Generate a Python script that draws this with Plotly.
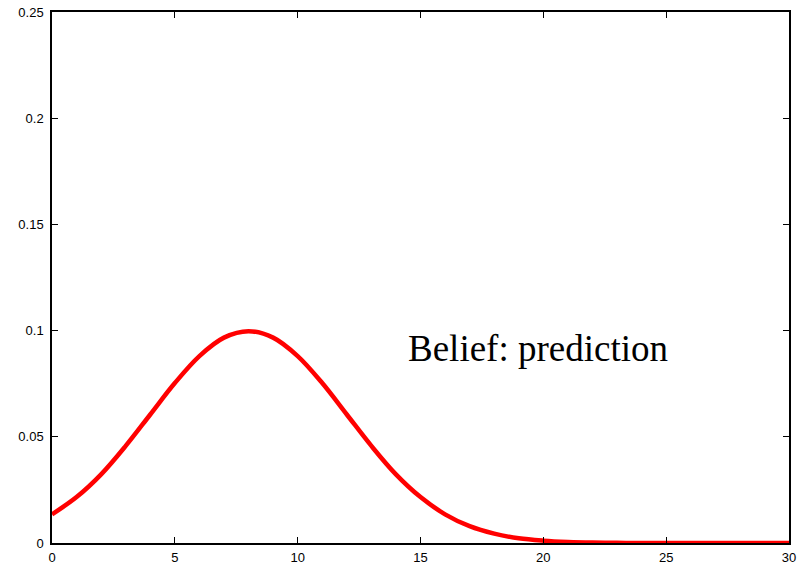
import plotly.graph_objects as go

x_vals = list(range(0, 31))
y_vals = [0.0135, 0.0216, 0.0323, 0.0457, 0.0605, 0.0753, 0.0880, 0.0967, 0.0997,
          0.0967, 0.0880, 0.0753, 0.0605, 0.0457, 0.0323, 0.0216, 0.0135, 0.0079,
          0.0044, 0.0022, 0.0011, 0.0005, 0.0002, 0.0001, 0.0, 0.0, 0.0, 0.0, 0.0,
          0.0, 0.0]
x_ticks = [0, 5, 10, 15, 20, 25, 30]
y_ticks = [0, 0.05, 0.1, 0.15, 0.2, 0.25]
y_tick_labels = ["0", "0.05", "0.1", "0.15", "0.2", "0.25"]
label_text = "Belief: prediction"

fig = go.Figure()
fig.add_trace(go.Scatter(x=x_vals, y=y_vals, mode="lines",
                         line=dict(color="#ff0000", width=4.5, shape="spline"),
                         showlegend=False, hoverinfo="skip", cliponaxis=False))

fig.add_annotation(x=14.4, y=0.0918, text=label_text, showarrow=False,
                   xanchor="left", yanchor="middle",
                   font=dict(family="Liberation Serif, Times New Roman, serif", size=37, color="black"))

axis_common = dict(showgrid=False, zeroline=False, showline=True, linecolor="black",
                   linewidth=1.5, mirror="ticks", ticks="inside", ticklen=6,
                   tickcolor="black", tickwidth=1, automargin=False,
                   tickfont=dict(family="Liberation Sans, Arial, sans-serif", size=13, color="black"))

fig.update_xaxes(range=[0, 30], tickvals=x_ticks, ticktext=[str(t) for t in x_ticks],
                 ticklabelstandoff=2, **axis_common)
fig.update_yaxes(range=[0, 0.25], tickvals=y_ticks, ticktext=y_tick_labels,
                 ticklabelstandoff=4, **axis_common)

fig.update_layout(width=799, height=569, plot_bgcolor="white", paper_bgcolor="white",
                  margin=dict(l=52, r=10, t=12, b=26, pad=0, autoexpand=False))

fig.write_html("out.html", config={"displayModeBar": False},
               post_script="document.body.style.margin='0px';document.body.style.overflow='hidden';")
